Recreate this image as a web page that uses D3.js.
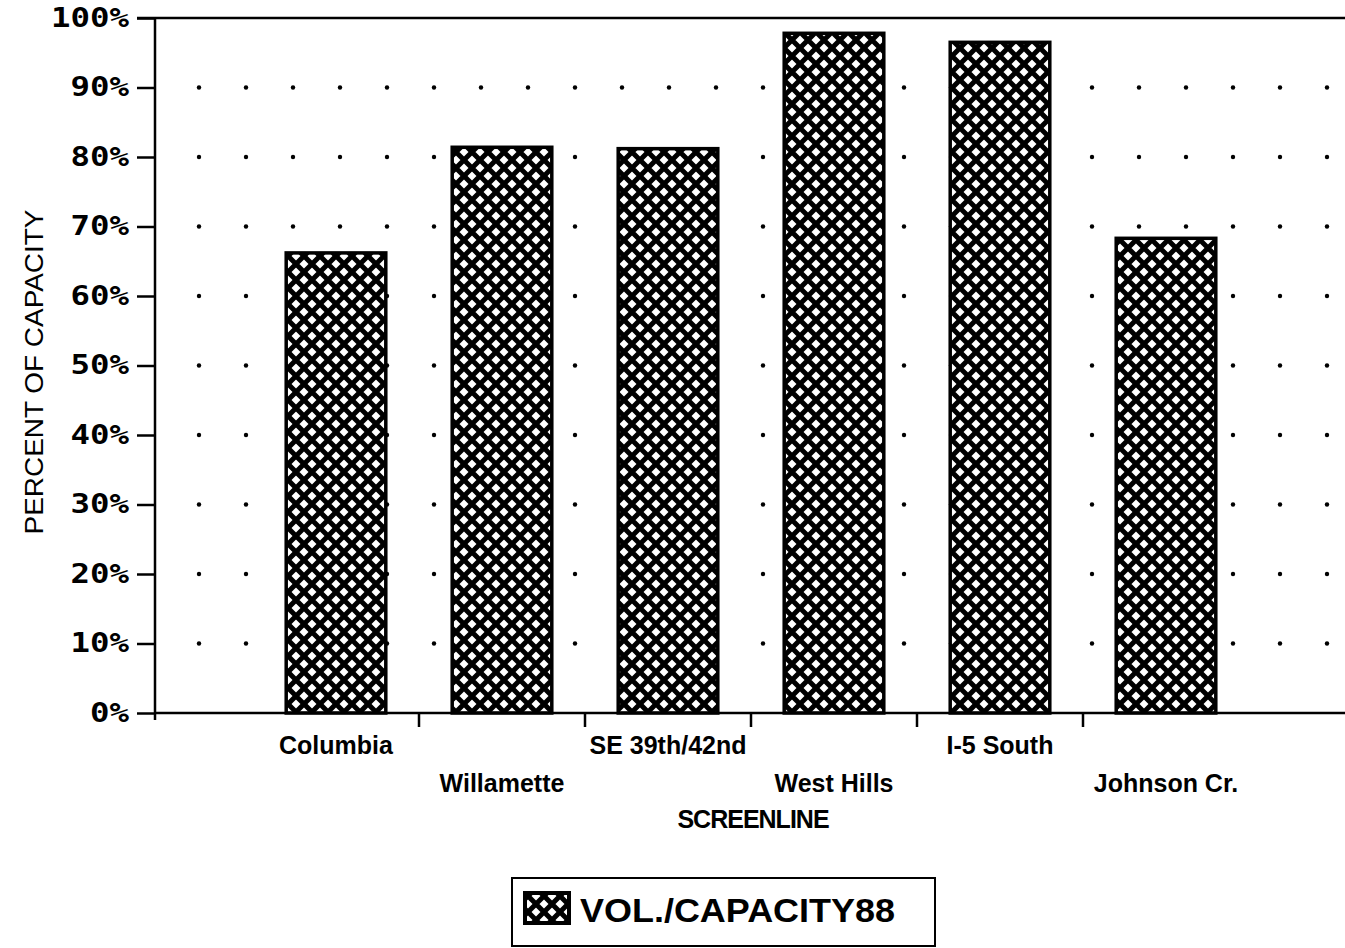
<!DOCTYPE html>
<html>
<head>
<meta charset="utf-8">
<script src="https://cdn.jsdelivr.net/npm/d3@7"></script>
<style>
  body { margin: 0; background: #fff; }
  svg { display: block; }
</style>
</head>
<body>
<svg id="drawing_region"></svg>
<script>
const categories = ["Columbia", "Willamette", "SE 39th/42nd", "West Hills", "I-5 South", "Johnson Cr."];
const values = [66.2, 81.4, 81.2, 97.8, 96.5, 68.3];
const yticks = [0, 10, 20, 30, 40, 50, 60, 70, 80, 90, 100];
const series_name = "VOL./CAPACITY88";

class BarChart {
    constructor( config ) {
        this.config = config;
        this.init();
    }

    init() {
        let self = this;
        const c = self.config;

        self.svg = d3.select( c.parent )
            .attr('width', c.width)
            .attr('height', c.height);

        const defs = self.svg.append('defs');
        const s = 16;
        const pat = defs.append('pattern')
            .attr('id', 'xhatch')
            .attr('patternUnits', 'userSpaceOnUse')
            .attr('width', s)
            .attr('height', s);
        pat.append('rect').attr('width', s).attr('height', s).attr('fill', '#fff');
        pat.append('path')
            .attr('d', `M-2,-2 L${s+2},${s+2} M-2,${s-2} L2,${s+2} M${s-2},-2 L${s+2},2 M${s+2},-2 L-2,${s+2} M-2,2 L2,-2 M${s-2},${s+2} L${s+2},${s-2}`)
            .attr('stroke', '#000')
            .attr('stroke-width', 5);

        self.xscale = d3.scaleBand()
            .domain( categories )
            .range( [253, 1249] )
            .paddingInner(0.4)
            .paddingOuter(0.2);

        self.yscale = d3.scaleLinear()
            .domain( [0, 100] )
            .range( [713, 18] );
    }

    render() {
        let self = this;
        const c = self.config;

        // dotted grid
        const dotx = d3.range(199, c.width, 47);
        yticks.filter(t => t > 0 && t < 100).forEach( t => {
            self.svg.append('g').selectAll('circle')
                .data(dotx)
                .join('circle')
                .attr('cx', d => d)
                .attr('cy', self.yscale(t))
                .attr('r', 2.2)
                .attr('fill', '#000');
        });

        // bars
        self.svg.append('g').selectAll('rect')
            .data(values)
            .join('rect')
            .attr('x', (d, i) => self.xscale(categories[i]))
            .attr('y', d => self.yscale(d))
            .attr('width', self.xscale.bandwidth())
            .attr('height', d => self.yscale(0) - self.yscale(d))
            .attr('fill', 'url(#xhatch)')
            .attr('stroke', '#000')
            .attr('stroke-width', 3.5);

        // y axis
        const yaxis = d3.axisLeft( self.yscale )
            .tickValues( yticks )
            .tickSize(18)
            .tickPadding(8)
            .tickFormat( d => d + '%' );
        const yg = self.svg.append('g')
            .attr('transform', 'translate(155,0)')
            .call( yaxis );
        yg.select('.domain').remove();
        yg.append('line').attr('x1', 0).attr('x2', 0)
            .attr('y1', 18).attr('y2', 720)
            .attr('stroke', '#000').attr('stroke-width', 2.5);
        yg.selectAll('.tick line').attr('stroke', '#000').attr('stroke-width', 2.5);
        yg.selectAll('.tick text')
            .attr('fill', '#000')
            .attr('font-family', 'DejaVu Sans Mono')
            .attr('font-weight', 'bold')
            .attr('font-size', '26px')
            .attr('textLength', d => (d + '%').length * 19.5)
            .attr('lengthAdjust', 'spacingAndGlyphs');

        // top frame line
        self.svg.append('line')
            .attr('x1', 137).attr('x2', c.width)
            .attr('y1', 18).attr('y2', 18)
            .attr('stroke', '#000').attr('stroke-width', 2.5);

        // x axis: ticks at category boundaries
        const step = self.xscale.step();
        const bounds = categories.slice(1).map(d => self.xscale(d) - (step - self.xscale.bandwidth()) / 2);
        const xg = self.svg.append('g');
        xg.append('line')
            .attr('x1', 155).attr('x2', c.width)
            .attr('y1', 713).attr('y2', 713)
            .attr('stroke', '#000').attr('stroke-width', 2.5);
        xg.selectAll('line.tk')
            .data(bounds)
            .join('line')
            .attr('class', 'tk')
            .attr('x1', d => d).attr('x2', d => d)
            .attr('y1', 713).attr('y2', 727)
            .attr('stroke', '#000').attr('stroke-width', 2.5);

        xg.selectAll('text')
            .data(categories)
            .join('text')
            .attr('x', d => self.xscale(d) + self.xscale.bandwidth() / 2)
            .attr('y', (d, i) => i % 2 == 0 ? 754 : 792)
            .attr('text-anchor', 'middle')
            .attr('font-family', 'Liberation Sans, Arial')
            .attr('font-weight', 'bold')
            .attr('font-size', '25px')
            .text(d => d);

        self.svg.append('text')
            .attr('x', 753).attr('y', 828)
            .attr('text-anchor', 'middle')
            .attr('font-family', 'Liberation Sans, Arial')
            .attr('font-weight', 'bold')
            .attr('font-size', '25px')
            .attr('letter-spacing', '-1px')
            .text('SCREENLINE');

        self.svg.append('text')
            .attr('transform', 'translate(43,372) rotate(-90)')
            .attr('text-anchor', 'middle')
            .attr('font-family', 'Liberation Sans, Arial')
            .attr('font-size', '26px')
            .attr('textLength', 325)
            .attr('lengthAdjust', 'spacingAndGlyphs')
            .text('PERCENT OF CAPACITY');

        // legend
        const lg = self.svg.append('g');
        lg.append('rect')
            .attr('x', 512).attr('y', 878)
            .attr('width', 423).attr('height', 68)
            .attr('fill', '#fff')
            .attr('stroke', '#000').attr('stroke-width', 2);
        lg.append('rect')
            .attr('x', 525).attr('y', 893)
            .attr('width', 44).attr('height', 30)
            .attr('fill', 'url(#xhatch)')
            .attr('stroke', '#000').attr('stroke-width', 4);
        lg.append('text')
            .attr('x', 580).attr('y', 922)
            .attr('font-family', 'Liberation Sans, Arial')
            .attr('font-weight', 'bold')
            .attr('font-size', '33px')
            .attr('textLength', 315)
            .attr('lengthAdjust', 'spacingAndGlyphs')
            .text(series_name);
    }
}

const chart = new BarChart({ parent: '#drawing_region', width: 1345, height: 948 });
chart.render();
</script>
</body>
</html>
